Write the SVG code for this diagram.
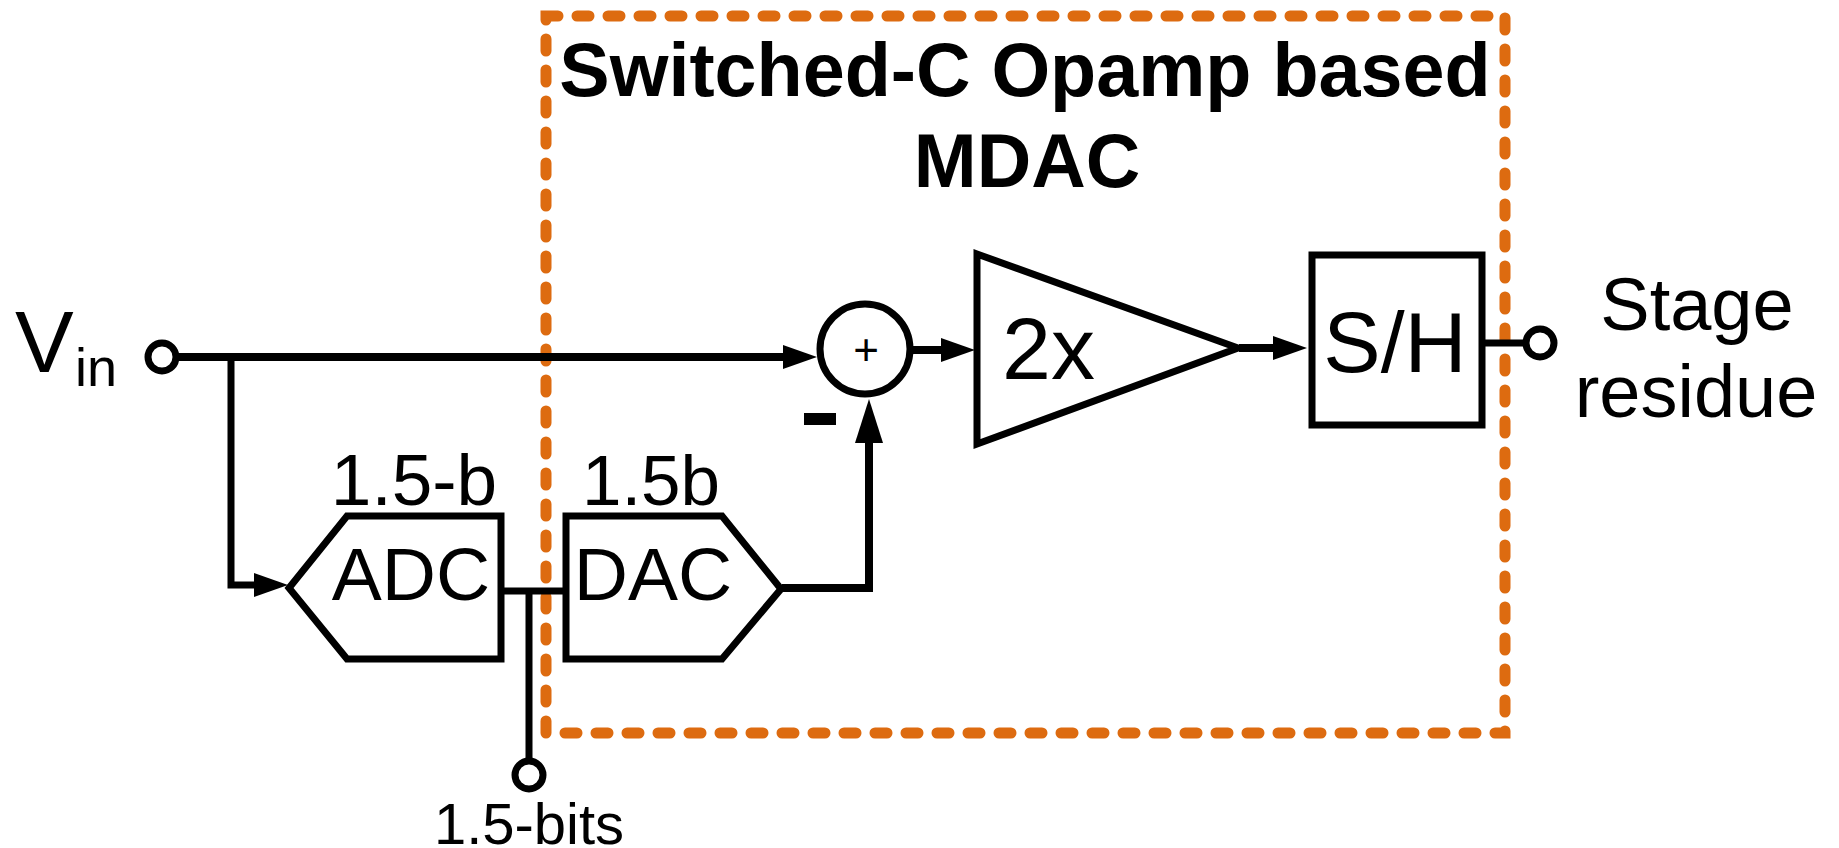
<svg xmlns="http://www.w3.org/2000/svg" width="1839" height="848" viewBox="0 0 1839 848">
<style>
.l{fill:none;stroke:#000;stroke-width:7}
.t{font-family:"Liberation Sans",Arial,sans-serif;fill:#000}
.b{font-size:75.5px;font-weight:bold;text-anchor:middle}
.m{text-anchor:middle}
</style>
<defs>
<marker id="a" markerUnits="userSpaceOnUse" markerWidth="34" markerHeight="24" refX="10" refY="12" orient="auto"><path d="M0 0L34 12L0 24Z" fill="#000"/></marker>
<marker id="u" markerUnits="userSpaceOnUse" markerWidth="44" markerHeight="28" refX="20" refY="14" orient="auto"><path d="M0 0L44 14L0 28Z" fill="#000"/></marker>
</defs>
<rect width="1839" height="848" fill="#fff"/>
<rect id="mdac" x="546" y="16" width="959" height="717" fill="none" stroke="#dd6b10" stroke-width="11" stroke-linecap="round" stroke-dasharray="12 19"/>
<g id="connectors">
<path class="l" style="stroke-width:8" d="M177 357H793" marker-end="url(#a)"/>
<path class="l" d="M231 357V585H264" marker-end="url(#a)"/>
<path class="l" style="stroke-width:8" d="M911 350H951" marker-end="url(#a)"/>
<path class="l" style="stroke-width:8" d="M1239 348H1283" marker-end="url(#a)"/>
<path class="l" style="stroke-width:8" d="M782 588H869V423" marker-end="url(#u)"/>
<path class="l" d="M502 591H566"/>
<path class="l" d="M529 591V760"/>
<path class="l" d="M1485 343H1526"/>
</g>
<g id="vin"><circle class="l" cx="162" cy="357" r="14"/><text class="t" x="15" y="372" font-size="88">V</text><text class="t" x="75" y="386" font-size="54">in</text></g>
<g id="sum"><circle class="l" cx="865" cy="349" r="45"/><text class="t m" x="866" y="365" font-size="44">+</text></g>
<g id="minus"><rect x="804" y="413" width="32" height="12" fill="#000"/></g>
<g id="amp"><path class="l" d="M977 254L1238 348L977 444Z"/><text class="t" x="1002" y="379" font-size="88">2x</text></g>
<g id="sh"><rect class="l" x="1312" y="255" width="170" height="170"/><text class="t m" x="1395" y="372" font-size="86">S/H</text></g>
<g id="adc"><path class="l" d="M501 516H347L289 588L347 659H501Z"/><text class="t m" x="411" y="600" font-size="75">ADC</text><text class="t m" x="414" y="505" font-size="73">1.5-b</text></g>
<g id="dac"><path class="l" d="M566 516H722L781 589L722 659H566Z"/><text class="t m" x="653" y="600" font-size="75">DAC</text><text class="t m" x="651" y="505" font-size="71">1.5b</text></g>
<g id="out"><circle class="l" cx="1540" cy="343" r="14"/><text class="t m" x="1697" y="330" font-size="74">Stage</text><text class="t m" x="1696" y="417" font-size="74">residue</text></g>
<g id="bits"><circle class="l" cx="529" cy="775" r="14"/><text class="t m" x="529" y="844" font-size="58">1.5-bits</text></g>
<g id="title"><text class="t b" x="1025" y="96">Switched-C Opamp based</text><text class="t b" x="1027" y="187">MDAC</text></g>
</svg>
